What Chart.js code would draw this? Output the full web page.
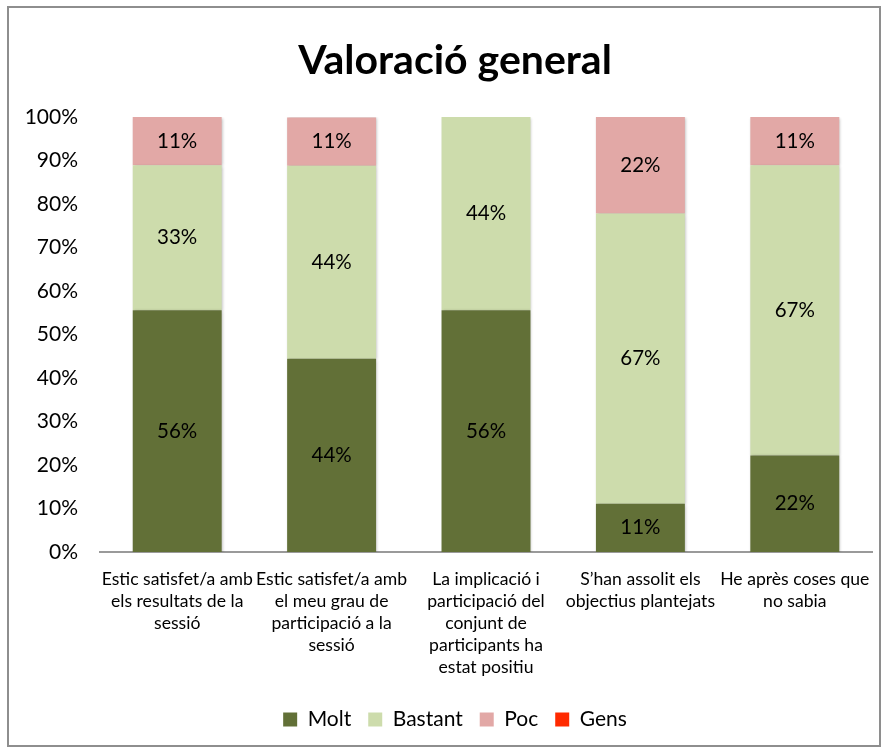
<!DOCTYPE html>
<html>
<head>
<meta charset="utf-8">
<script src="https://cdn.jsdelivr.net/npm/chart.js@4/dist/chart.umd.min.js"></script>
<style>
html,body{margin:0;padding:0;background:#fff;}
#wrap{position:absolute;left:0;top:0;width:888px;height:755px;}
</style>
</head>
<body>
<div id="wrap"><canvas id="c" width="888" height="755"></canvas></div>
<script>
const categories = [
  ["Estic satisfet/a amb", "els resultats de la", "sessió"],
  ["Estic satisfet/a amb", "el meu grau de", "participació a la", "sessió"],
  ["La implicació i", "participació del", "conjunt de", "participants ha", "estat positiu"],
  ["S\u2019han assolit els", "objectius plantejats"],
  ["He après coses que", "no sabia"]
];
const molt    = [55.6, 44.4, 55.6, 11.1, 22.2];
const bastant = [33.3, 44.4, 44.4, 66.7, 66.7];
const poc     = [11.1, 11.1, 0, 22.2, 11.1];
const gens    = [0, 0, 0, 0, 0];
const seriesNames = ["Molt", "Bastant", "Poc", "Gens"];
const yTicks = [0,10,20,30,40,50,60,70,80,90,100];

const FONT = "Lato, 'Open Sans', sans-serif";

const borderPlugin = {
  id: 'frame',
  beforeDraw(chart) {
    const ctx = chart.ctx;
    ctx.save();
    ctx.fillStyle = '#fff';
    ctx.fillRect(0, 0, chart.width, chart.height);
    ctx.strokeStyle = '#8e8e8e';
    ctx.lineWidth = 2;
    ctx.strokeRect(8, 7, 872, 739);
    ctx.restore();
  }
};

const shadowPlugin = {
  id: 'shadow',
  beforeDatasetsDraw(chart) {
    const ctx = chart.ctx;
    ctx.save();
    ctx.shadowColor = 'rgba(0,0,0,0.28)';
    ctx.shadowBlur = 3;
    ctx.shadowOffsetX = 1;
    ctx.shadowOffsetY = 1;
  },
  afterDatasetsDraw(chart) {
    chart.ctx.restore();
  }
};

const labelPlugin = {
  id: 'valueLabels',
  afterDatasetsDraw(chart) {
    const ctx = chart.ctx;
    ctx.save();
    ctx.font = "20.5px " + FONT;
    ctx.fillStyle = '#000';
    ctx.textAlign = 'center';
    ctx.textBaseline = 'middle';
    chart.data.datasets.forEach((ds, i) => {
      const meta = chart.getDatasetMeta(i);
      meta.data.forEach((bar, j) => {
        const v = ds.data[j];
        if (!v) return;
        const y = (bar.y + bar.base) / 2;
        ctx.fillText(Math.round(v) + '%', bar.x, y);
      });
    });
    ctx.restore();
  }
};

new Chart(document.getElementById('c'), {
  type: 'bar',
  data: {
    labels: categories,
    datasets: [
      { label: seriesNames[0], data: molt, backgroundColor: '#627037' },
      { label: seriesNames[1], data: bastant, backgroundColor: '#cddcac' },
      { label: seriesNames[2], data: poc, backgroundColor: '#e2a8a6' },
      { label: seriesNames[3], data: gens, backgroundColor: '#ff2a00' }
    ]
  },
  options: {
    responsive: false,
    animation: false,
    devicePixelRatio: 1,
    categoryPercentage: 0.8,
    barPercentage: 0.72,
    layout: { padding: { left: 38, right: 16, top: 0, bottom: 15 } },
    plugins: {
      title: {
        display: true,
        text: 'Valoració general',
        color: '#000',
        font: { family: FONT, size: 41, weight: 'bold', lineHeight: 1.2 },
        padding: { top: 36, bottom: 31.8 }
      },
      legend: {
        position: 'bottom',
        labels: {
          color: '#000',
          font: { family: FONT, size: 21 },
          boxWidth: 14,
          boxHeight: 14,
          padding: 17
        }
      },
      tooltip: { enabled: false }
    },
    scales: {
      x: {
        stacked: true,
        grid: { display: false, drawTicks: false },
        border: { display: true, color: '#9a9a9a', width: 2 },
        ticks: {
          color: '#000',
          font: { family: FONT, size: 17.6, lineHeight: 1.25 },
          padding: 16,
          maxRotation: 0,
          minRotation: 0,
          autoSkip: false
        },
        afterFit(scale) { scale.height = 140; }
      },
      y: {
        stacked: true,
        min: 0,
        max: 100,
        afterBuildTicks(scale) { scale.ticks = yTicks.map(v => ({ value: v })); },
        grid: { display: false, drawTicks: false },
        border: { display: false },
        ticks: {
          color: '#000',
          font: { family: FONT, size: 21 },
          padding: 22,
          callback: v => v + '%'
        },
        afterFit(scale) {
          scale.width = 62;
          scale._computeLabelArea = () => null;
        }
      }
    }
  },
  plugins: [borderPlugin, shadowPlugin, labelPlugin]
});
</script>
</body>
</html>
